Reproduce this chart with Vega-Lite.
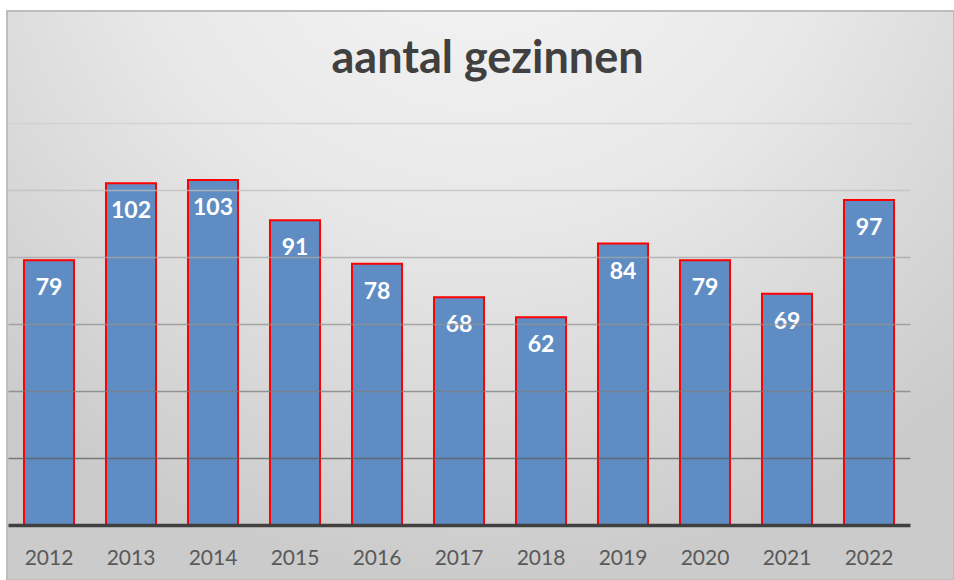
{
  "$schema": "https://vega.github.io/schema/vega-lite/v6.json",
  "autosize": {"type": "none"},
  "padding": {"left": 7, "top": 11, "right": 0, "bottom": 0},
  "width": 947,
  "height": 569,
  "background": "#ffffff",
  "view": {
    "fill": {
      "gradient": "radial",
      "x1": 0.5, "y1": 0.05, "r1": 0,
      "x2": 0.5, "y2": 0.05, "r2": 0.75,
      "stops": [
        {"offset": 0, "color": "#f7f7f7"},
        {"offset": 0.5, "color": "#e8e8e8"},
        {"offset": 1, "color": "#cbcbcb"}
      ]
    },
    "stroke": "#bdbdbd",
    "strokeWidth": 2
  },
  "title": {
    "text": "aantal gezinnen",
    "font": "Lato",
    "fontSize": 45,
    "fontWeight": "bold",
    "color": "#404040",
    "anchor": "middle",
    "frame": "group",
    "baseline": "alphabetic",
    "offset": -64,
    "dx": 7,
    "dy": 43
  },
  "data": {
    "values": [
      {"jaar": "2012", "aantal": 79},
      {"jaar": "2013", "aantal": 102},
      {"jaar": "2014", "aantal": 103},
      {"jaar": "2015", "aantal": 91},
      {"jaar": "2016", "aantal": 78},
      {"jaar": "2017", "aantal": 68},
      {"jaar": "2018", "aantal": 62},
      {"jaar": "2019", "aantal": 84},
      {"jaar": "2020", "aantal": 79},
      {"jaar": "2021", "aantal": 69},
      {"jaar": "2022", "aantal": 97}
    ]
  },
  "encoding": {
    "x": {
      "field": "jaar",
      "type": "ordinal",
      "sort": null,
      "scale": {"range": [1, 903], "paddingInner": 0.39, "paddingOuter": 0.195},
      "axis": {
        "title": null,
        "labelAngle": 0,
        "labelFont": "Lato",
        "labelFontSize": 21,
        "labelColor": "#595959",
        "labelBaseline": "alphabetic",
        "labelPadding": 39,
        "ticks": false,
        "domainColor": "#404040",
        "domainWidth": 3.5,
        "offset": -55,
        "zindex": 2
      }
    },
    "y": {
      "field": "aantal",
      "type": "quantitative",
      "scale": {"domain": [0, 120], "range": [514, 112], "nice": false},
      "axis": {
        "title": null,
        "labels": false,
        "ticks": false,
        "domain": false,
        "values": [20, 40, 60, 80, 100, 120],
        "gridWidth": 1.5,
        "gridOpacity": 0.75,
        "gridColor": {
          "condition": [
            {"test": "datum.value == 20", "value": "#5e5e5e"},
            {"test": "datum.value == 40", "value": "#7c7c7c"},
            {"test": "datum.value == 60", "value": "#929292"},
            {"test": "datum.value == 80", "value": "#a6a6a6"},
            {"test": "datum.value == 100", "value": "#bdbdbd"}
          ],
          "value": "#cfcfcf"
        },
        "zindex": 1
      }
    }
  },
  "layer": [
    {
      "mark": {"type": "bar", "fill": "#5f8dc3", "stroke": "#ff0000", "strokeWidth": 2}
    },
    {
      "mark": {
        "type": "text",
        "font": "Lato",
        "fontSize": 23,
        "fontWeight": "bold",
        "color": "#ffffff",
        "baseline": "alphabetic",
        "dy": 35
      },
      "encoding": {"text": {"field": "aantal", "type": "quantitative"}}
    }
  ]
}
